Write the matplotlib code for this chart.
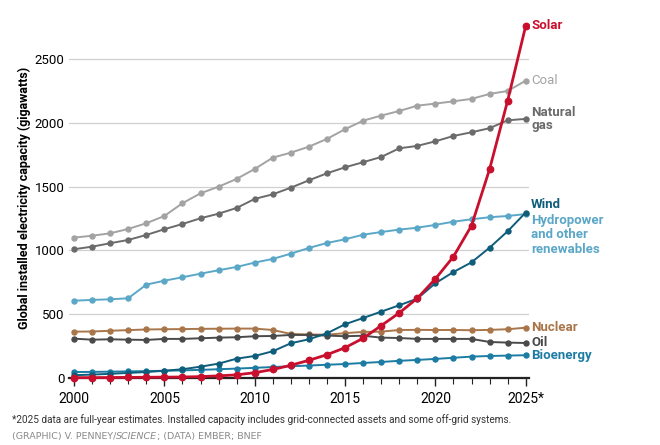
import matplotlib.pyplot as plt
import numpy as np

plt.rcParams['font.family'] = ['Roboto', 'DejaVu Sans']

years = list(range(2000, 2026))

coal = [1100, 1115, 1134, 1168, 1213, 1270, 1370, 1448, 1500, 1561, 1639, 1728, 1767,
        1814, 1875, 1951, 2018, 2058, 2094, 2136, 2152, 2170, 2189, 2228, 2251, 2332]
gas = [1009, 1029, 1056, 1082, 1121, 1166, 1207, 1252, 1288, 1333, 1404, 1440, 1492,
       1550, 1605, 1652, 1692, 1733, 1801, 1820, 1856, 1898, 1927, 1959, 2021, 2032]
hydro = [605, 611, 616, 624, 731, 762, 789, 817, 844, 870, 904, 933, 974,
         1019, 1058, 1087, 1123, 1144, 1163, 1178, 1200, 1225, 1244, 1260, 1270, 1285]
wind = [20, 25, 31, 38, 45, 55, 67, 87, 111, 150, 171, 208, 271,
        302, 349, 420, 469, 519, 569, 621, 742, 830, 906, 1021, 1150, 1297]
solar = [1, 1, 2, 3, 4, 5, 6, 9, 15, 23, 40, 65, 98,
         137, 181, 236, 310, 409, 509, 624, 776, 951, 1194, 1637, 2175, 2762]
nuclear = [362, 363, 369, 374, 379, 381, 382, 384, 385, 386, 386, 375, 344,
           340, 338, 350, 360, 362, 375, 376, 375, 375, 373, 376, 381, 393]
oil = [307, 299, 302, 299, 297, 305, 305, 310, 315, 318, 326, 328, 336,
       336, 331, 326, 330, 315, 312, 305, 305, 305, 305, 281, 276, 273]
bio = [45, 46, 48, 50, 52, 55, 58, 62, 67, 72, 78, 84, 90,
       96, 102, 108, 116, 124, 133, 140, 148, 157, 166, 171, 174, 177]

series = [
    ('Coal', coal, '#a3a3a3', 'normal', 'Coal'),
    ('Natural gas', gas, '#6b6b6b', 'bold', 'Natural\ngas'),
    ('Hydropower', hydro, '#5ba7c7', 'bold', None),
    ('Nuclear', nuclear, '#a8764a', 'bold', 'Nuclear'),
    ('Oil', oil, '#4a4a4a', 'semibold', 'Oil'),
    ('Bioenergy', bio, '#1c7ca3', 'bold', 'Bioenergy'),
    ('Wind', wind, '#0e5d7a', 'bold', None),
]

fig = plt.figure(figsize=(6.6, 4.45), dpi=100)
ax = fig.add_axes([0.104, 0.1425, 0.698, 0.8245])

for name, vals, col, w, lab in series:
    ax.plot(years, vals, color=col, lw=1.4, marker='o', ms=3.6, zorder=3)
    if lab:
        ax.annotate(lab, (years[-1], vals[-1]), xytext=(4, 0), textcoords='offset points',
                    color=col, fontsize=9.5, fontweight=w, va='center', ha='left',
                    linespacing=1.05)

ax.plot(years, solar, color='#c8102e', lw=2.0, marker='o', ms=4.6, zorder=5)
ax.annotate('Solar', (years[-1], solar[-1]), xytext=(4, 0), textcoords='offset points',
            color='#c8102e', fontsize=9.5, fontweight='bold', va='center', ha='left')

# wind / hydro labels placed together
ax.annotate('Wind', (years[-1], wind[-1]), xytext=(4, 6), textcoords='offset points',
            color='#0e5d7a', fontsize=9.5, fontweight='bold', va='center', ha='left')
ax.annotate('Hydropower\nand other\nrenewables', (years[-1], wind[-1]), xytext=(4, -1),
            textcoords='offset points', color='#5ba7c7', fontsize=9.5, fontweight='bold',
            va='top', ha='left', linespacing=1.15)

ax.set_xlim(1999.7, 2025.2)
ax.set_ylim(-30, 2850)
ax.set_yticks([0, 500, 1000, 1500, 2000, 2500])
ax.set_xticks([2000, 2005, 2010, 2015, 2020, 2025])
ax.set_xticklabels(['2000', '2005', '2010', '2015', '2020', '2025*'],
                   fontweight='bold', fontsize=10)
ax.set_xticks(years, minor=True)
ax.tick_params(axis='x', which='major', length=6, width=1, color='#222', pad=4)
ax.tick_params(axis='x', which='minor', length=4, width=0.8, color='#222')
ax.tick_params(axis='y', length=0, labelsize=9.5, pad=3)
ax.grid(axis='y', color='#d0d0d0', lw=0.9)
ax.set_axisbelow(True)
for s in ['top', 'right', 'left']:
    ax.spines[s].set_visible(False)
# baseline at zero with the ticks on it
ax.spines['bottom'].set_position(('data', 0))
ax.spines['bottom'].set_color('#222')
ax.spines['bottom'].set_linewidth(1.6)

ax.set_ylabel('Global installed electricity capacity (gigawatts)', fontweight='bold',
              fontsize=9, labelpad=6)
ax.yaxis.set_label_coords(-0.082, 0.5)

fig.text(0.018, 0.050, '*2025 data are full-year estimates. Installed capacity includes '
         'grid-connected assets and some off-grid systems.', fontsize=7.2, color='#333333')
cred = dict(fontsize=6.8, color='#8a8a8a', family=['DejaVu Sans'])
t1 = fig.text(0.018, 0.014, '(GRAPHIC) V. PENNEY/', **cred)
t2 = fig.text(0, 0, 'SCIENCE', style='italic', **cred)
t3 = fig.text(0, 0, '; (DATA) EMBER; BNEF', **cred)
fig.canvas.draw()
r = fig.canvas.get_renderer()
bb = t1.get_window_extent(r)
t2.set_position((bb.x1 / fig.bbox.width, 0.014))
bb = t2.get_window_extent(r)
t3.set_position((bb.x1 / fig.bbox.width, 0.014))

fig.savefig('out.png', dpi=100)
